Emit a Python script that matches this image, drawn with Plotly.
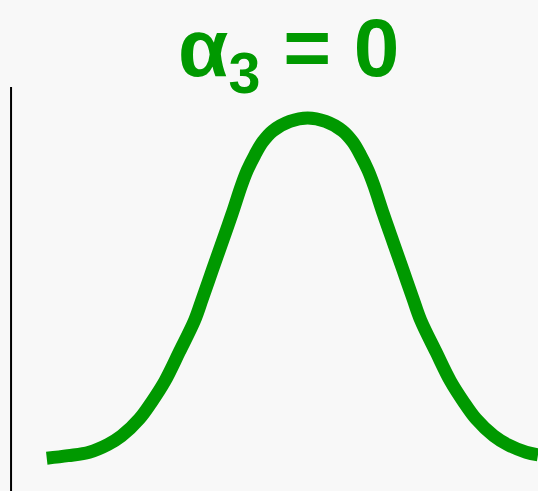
import plotly.graph_objects as go

# Symmetric bell curve (skewness alpha_3 = 0), x in standard units, y as density
z_values = [-3.07, -2.82, -2.57, -2.35, -2.19, -1.98, -1.84, -1.68, -1.51, -1.33,
            -1.24, -1.12, -1.01, -0.89, -0.78, -0.71, -0.62, -0.53, -0.41, -0.21,
            0.00,
            0.21, 0.41, 0.53, 0.62, 0.71, 0.78, 0.89, 1.01, 1.12, 1.24,
            1.33, 1.51, 1.68, 1.84, 1.98, 2.19, 2.35, 2.57, 2.71]
density = [0.002, 0.005, 0.009, 0.018, 0.028, 0.048, 0.067, 0.092, 0.126, 0.163,
           0.188, 0.222, 0.253, 0.287, 0.320, 0.338, 0.356, 0.371, 0.384, 0.395,
           0.399,
           0.395, 0.384, 0.371, 0.356, 0.338, 0.320, 0.287, 0.253, 0.222, 0.188,
           0.163, 0.126, 0.092, 0.067, 0.048, 0.028, 0.018, 0.009, 0.006]

title_text = "<b>α<sub>3</sub> = 0</b>"

GREEN = "#009900"
BG = "#f8f8f8"

# Vertical reference axis at the left
axis_x = -3.49
axis_top = 0.435

fig = go.Figure()
fig.add_trace(go.Scatter(
    x=z_values, y=density, mode="lines",
    line=dict(color=GREEN, width=13, shape="spline", smoothing=1.0),
    hoverinfo="skip", showlegend=False,
))

fig.add_shape(type="line", xref="x", yref="y",
              x0=axis_x, x1=axis_x, y0=-0.05, y1=axis_top,
              line=dict(color="black", width=2))

fig.add_annotation(
    text=title_text, xref="paper", yref="paper", x=0.537, y=1.0,
    xanchor="center", yanchor="top", showarrow=False, yshift=0,
    font=dict(family="Liberation Sans, Arial, sans-serif", size=82, color=GREEN),
)

fig.update_layout(
    width=538, height=491,
    margin=dict(l=0, r=0, t=0, b=0),
    paper_bgcolor=BG, plot_bgcolor=BG,
    xaxis=dict(range=[-3.62, 2.71], visible=False, fixedrange=True),
    yaxis=dict(range=[-0.0362, 0.5366], visible=False, fixedrange=True),
)

fig.write_html("out.html")
